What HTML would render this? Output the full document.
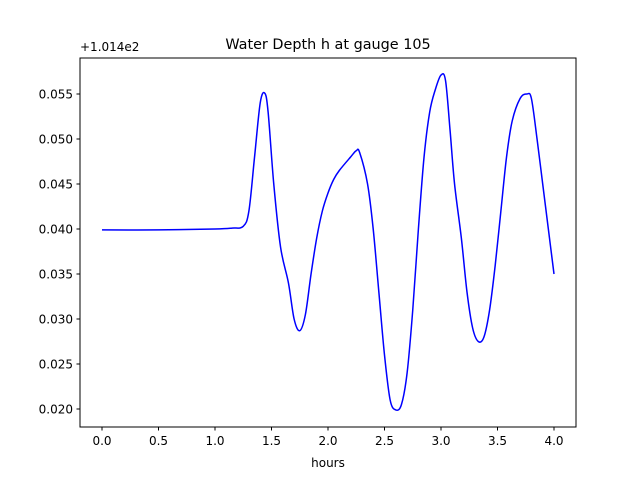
<!DOCTYPE html>
<html><head><meta charset="utf-8"><style>
body{margin:0;background:#fff}
svg text{font-family:"DejaVu Sans","Liberation Sans",sans-serif;fill:#000}
</style></head><body>
<svg id="chart" width="640" height="480" xmlns="http://www.w3.org/2000/svg">
<rect width="640" height="480" fill="#fff"/>
<text x="328" y="49" font-size="14.4" text-anchor="middle">Water Depth h at gauge 105</text>
<text x="80" y="51" font-size="12">+1.014e2</text>
<text x="328" y="467" font-size="12" text-anchor="middle">hours</text>
<g id="ticks"></g>
<path id="line" fill="none" stroke="#0000ff" stroke-width="1.5" stroke-linejoin="round"/>
<rect x="80" y="58" width="496" height="369" fill="none" stroke="#000" stroke-width="1"/>
</svg>
<script>
const times=[0,0.5,1.0,1.15,1.25,1.3,1.35,1.4,1.44,1.47,1.52,1.58,1.65,1.7,1.75,1.8,1.85,1.9,1.95,2.0,2.05,2.1,2.2,2.25,2.28,2.35,2.4,2.45,2.5,2.55,2.6,2.65,2.7,2.75,2.8,2.85,2.9,2.95,3.0,3.04,3.08,3.12,3.18,3.23,3.28,3.33,3.38,3.43,3.48,3.53,3.58,3.63,3.7,3.76,3.8,3.85,3.9,3.95,4.0];
const depths=[0.0399,0.0399,0.0400,0.0401,0.0403,0.042,0.048,0.054,0.0551,0.053,0.045,0.038,0.034,0.030,0.0287,0.0305,0.035,0.039,0.042,0.044,0.0455,0.0465,0.048,0.0487,0.0485,0.045,0.040,0.033,0.026,0.021,0.0199,0.0205,0.024,0.031,0.040,0.048,0.053,0.0555,0.0571,0.0565,0.051,0.045,0.039,0.033,0.029,0.0275,0.028,0.031,0.036,0.042,0.048,0.052,0.0545,0.0550,0.0545,0.050,0.045,0.040,0.035];
const xTicks=[0,0.5,1.0,1.5,2.0,2.5,3.0,3.5,4.0];
const yTicks=[0.020,0.025,0.030,0.035,0.040,0.045,0.050,0.055];
const X=t=>102+t*113;
const Y=v=>409-(v-0.020)*9000;
const ns="http://www.w3.org/2000/svg";
const g=document.getElementById('ticks');
function add(tag,attrs,txt){const e=document.createElementNS(ns,tag);for(const k in attrs)e.setAttribute(k,attrs[k]);if(txt!==undefined)e.textContent=txt;g.appendChild(e);return e;}
xTicks.forEach(t=>{
 const l=add('line',{x1:X(t),x2:X(t),y1:427,y2:430.5,stroke:'#000'});
 
 
 const s=add('text',{x:X(t),y:445,'font-size':12,'text-anchor':'middle'},t.toFixed(1));
 
 
});
yTicks.forEach(v=>{
 const l=add('line',{x1:76.5,x2:80,y1:Y(v),y2:Y(v),stroke:'#000'});
 
 
 const s=add('text',{x:73,y:Y(v)+4.5,'font-size':12,'text-anchor':'end'},v.toFixed(3));
 
 
});
// Catmull-Rom smoothing
const pts=times.map((t,i)=>[X(t),Y(depths[i])]);
let d='M'+pts[0][0]+','+pts[0][1];
for(let i=0;i<pts.length-1;i++){
 const p0=pts[Math.max(0,i-1)],p1=pts[i],p2=pts[i+1],p3=pts[Math.min(pts.length-1,i+2)];
 const c1=[p1[0]+(p2[0]-p0[0])/6,p1[1]+(p2[1]-p0[1])/6];
 const c2=[p2[0]-(p3[0]-p1[0])/6,p2[1]-(p3[1]-p1[1])/6];
 d+=` C${c1[0]},${c1[1]} ${c2[0]},${c2[1]} ${p2[0]},${p2[1]}`;
}
document.getElementById('line').setAttribute('d',d);
</script>
</body></html>
